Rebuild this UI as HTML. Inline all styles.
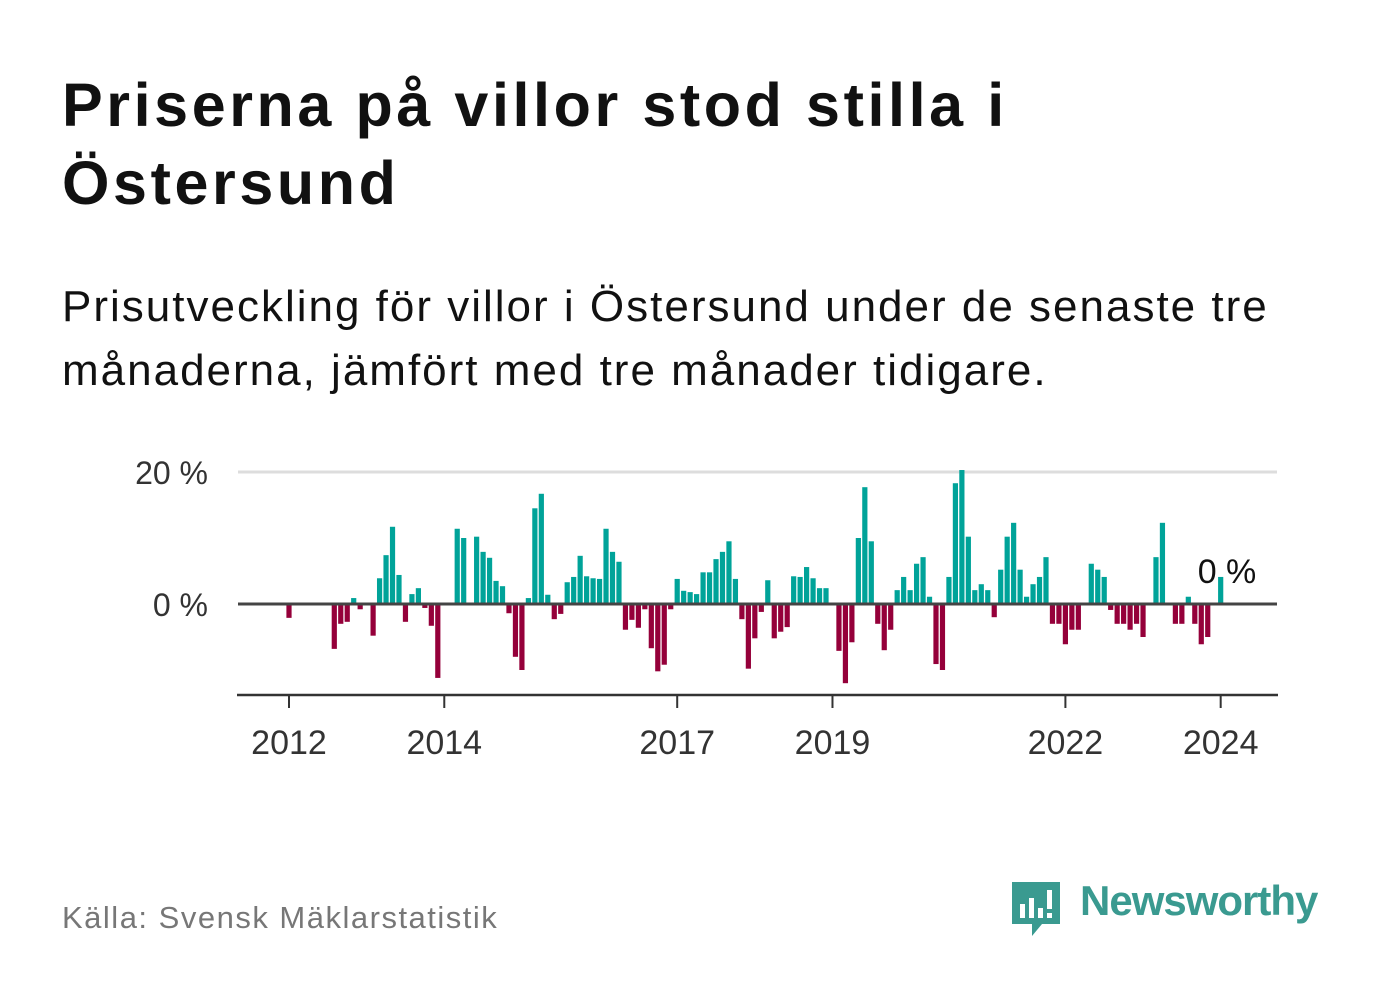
<!DOCTYPE html>
<html><head><meta charset="utf-8">
<style>
body{margin:0;background:#fff;width:1382px;height:999px;overflow:hidden;font-family:"Liberation Sans",sans-serif;}
#title{position:absolute;left:62px;top:66px;margin:0;font-size:61px;font-weight:bold;line-height:78px;color:#111;letter-spacing:3.6px;}
#sub{position:absolute;left:62px;top:275px;margin:0;font-size:44px;line-height:64px;color:#111;width:1260px;letter-spacing:2px;}
#src{position:absolute;left:62px;top:900px;font-size:31px;color:#777;letter-spacing:1.5px;}
#brand{position:absolute;left:1080px;top:877px;font-size:42px;font-weight:bold;color:#3a9a90;letter-spacing:-1px;}
svg{position:absolute;left:0;top:0;}
</style></head><body>
<h1 id="title">Priserna på villor stod stilla i<br>Östersund</h1>
<p id="sub">Prisutveckling för villor i Östersund under de senaste tre månaderna, jämfört med tre månader tidigare.</p>
<svg id="chart" width="1382" height="999"></svg>
<div id="src">Källa: Svensk Mäklarstatistik</div>
<svg id="logo" width="52" height="62" style="left:1010px;top:878px;">
<path d="M2 4 H50 V46 H32 L22 58 L22 46 H2 Z" fill="#3a9a90"/>
<rect x="10" y="26" width="5" height="14" fill="#fff"/><rect x="19" y="20" width="5" height="20" fill="#fff"/><rect x="28" y="30" width="5" height="10" fill="#fff"/><rect x="37" y="12" width="5" height="19" fill="#fff"/><rect x="37" y="35" width="5" height="5" fill="#fff"/>
</svg>
<div id="brand">Newsworthy</div>
<script>
const startYear = 2012;
const values = [-2.1,0,0,0,0,0,0,-6.8,-3.0,-2.7,0.9,-0.8,0,-4.8,3.9,7.4,11.7,4.4,-2.7,1.5,2.4,-0.6,-3.3,-11.2,
0,0,11.4,10.0,0,10.2,7.9,7.0,3.5,2.7,-1.4,-8.0,-10.0,0.9,14.5,16.7,1.4,-2.3,-1.5,3.3,4.1,7.3,4.2,3.9,3.8,11.4,7.9,6.4,
-3.9,-2.4,-3.6,-0.8,-6.7,-10.2,-9.2,-0.8,3.8,2.0,1.8,1.5,4.8,4.8,6.8,7.9,9.5,3.8,-2.3,-9.8,-5.2,-1.2,3.6,-5.2,-4.2,-3.5,
4.2,4.1,5.6,3.9,2.4,2.4,0,-7.1,-12.0,-5.8,10.0,17.7,9.5,-3.0,-7.0,-3.9,2.1,4.1,2.1,6.1,7.1,1.1,-9.1,-10.0,4.1,18.3,20.3,
10.2,2.1,3.0,2.1,-2.0,5.2,10.2,12.3,5.2,1.1,3.0,4.1,7.1,-3.0,-3.0,-6.1,-3.9,-3.9,0,6.1,5.2,4.1,-0.9,-3.0,-3.0,-3.9,-3.0,-5.0,
0,7.1,12.3,0,-3.0,-3.0,1.1,-3.0,-6.1,-5.0,0,4.1];
const yTicks = [0, 20];
const yTickLabels = ["0 %", "20 %"];
const xTickYears = [2012, 2014, 2017, 2019, 2022, 2024];
const lastLabel = "0 %";

const svg = document.getElementById('chart');
const NS = 'http://www.w3.org/2000/svg';
const x0 = 289, monthW = 6.47, y0 = 604, pxPer = 6.6;
const X = m => x0 + m * monthW;
const Y = v => y0 - v * pxPer;
function mk(tag, attrs){const e=document.createElementNS(NS,tag);for(const k in attrs)e.setAttribute(k,attrs[k]);svg.appendChild(e);return e;}

yTicks.forEach((t,i)=>{
  if(t!==0){
    const g=mk('line',{x1:238,x2:1277,y1:Y(t),y2:Y(t),stroke:'#dddddd','stroke-width':3});
    
    
  }
  const l=mk('text',{x:208,y:Y(t)+12,'text-anchor':'end','font-size':32,fill:'#333','font-family':'Liberation Sans, sans-serif'});
  l.textContent=yTickLabels[i];
  
  
});

values.forEach((v,i)=>{
  if(v===0) return;
  const top=v>0?Y(v):y0, h=Math.abs(v)*pxPer;
  const r=mk('rect',{x:X(i)-2.6,y:top,width:5.2,height:h,fill:v>0?'#00a399':'#95003a'});
  
  
});

const zl=mk('line',{x1:238,x2:1277,y1:y0,y2:y0,stroke:'#444','stroke-width':3});



const ax=mk('line',{x1:237,x2:1278,y1:695,y2:695,stroke:'#333','stroke-width':2.5});


xTickYears.forEach(yr=>{
  const xx=X((yr-startYear)*12);
  const t=mk('line',{x1:xx,x2:xx,y1:695,y2:708,stroke:'#333','stroke-width':2});
  
  
  const l=mk('text',{x:xx,y:754,'text-anchor':'middle','font-size':34,fill:'#333','font-family':'Liberation Sans, sans-serif'});
  l.textContent=yr;
  
  
});

const ll=mk('text',{x:1227,y:583,'text-anchor':'middle','font-size':34,fill:'#111','font-family':'Liberation Sans, sans-serif'});
ll.textContent=lastLabel;


</script>
</body></html>
